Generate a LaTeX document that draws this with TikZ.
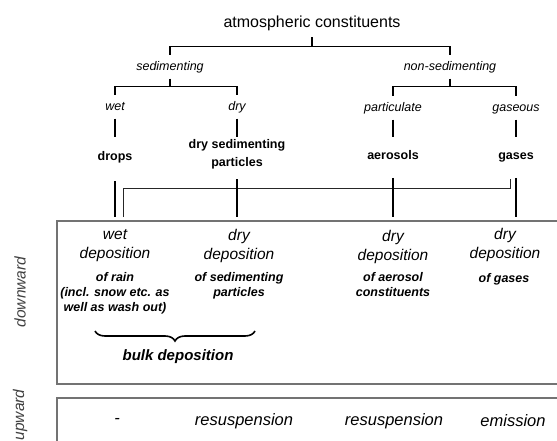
\documentclass[tikz,border=0pt]{standalone}
\usepackage{fontspec}
\setmainfont{Liberation Sans}
\usetikzlibrary{calc,decorations.pathreplacing}

\tikzset{
	headline/.style={inner sep=0pt, outer ysep=7pt, font=\fontsize{16}{19}\selectfont},
	branch/.style={inner sep=0pt, outer ysep=6pt, text height=9pt, text depth=2.5pt, font=\fontsize{12.5}{15}\selectfont\itshape},
	kind/.style={inner sep=0pt, align=center, font=\fontsize{12.5}{18}\selectfont\bfseries},
	dephead/.style={inner sep=0pt, align=center, font=\fontsize{15.5}{19}\selectfont\itshape},
	depsub/.style={inner sep=0pt, align=center, font=\fontsize{12.5}{15}\selectfont\bfseries\itshape},
	bulk/.style={inner sep=0pt, font=\fontsize{15}{18}\selectfont\bfseries\itshape},
	flux/.style={inner sep=0pt, font=\fontsize{16.5}{19}\selectfont\itshape},
	side/.style={inner sep=0pt, rotate=90, text=black!75, font=\fontsize{15.5}{18}\selectfont\itshape},
	tree/.style={line width=1.4pt},
	stub/.style={line width=2pt},
	bar/.style={line width=2.6pt},
	frame/.style={draw=black!55, line width=1.2pt},
	washout/.style={line width=0.8pt, draw=black!85},
	washdouble/.style={line width=0.6pt, draw=black!55, double=white, double distance=1.3pt},
	bracket/.style={decorate, decoration={brace, mirror, amplitude=10pt}, line width=1.6pt},
}

\begin{document}
\begin{tikzpicture}[x=1pt, y=-1pt]
	%%%%% START %%%%%
	\useasboundingbox (0,0) rectangle (557,441);
	\clip (0,0) rectangle (557,441);
	
	% classification
	\node[headline] (atm) at (312,23) {atmospheric constituents};
	\node[branch] (sed) at (170,67) {sedimenting};
	\node[branch] (nonsed) at (450,67) {non-sedimenting};
	\node[branch] (wet) at (115,107) {wet};
	\node[branch] (dry) at (237,107) {dry};
	\node[branch] (part) at (393,108) {particulate};
	\node[branch] (gas) at (516,108) {gaseous};
	
	\node[kind] (drops) at (115,157) {drops};
	\node[kind] (drysed) at (237,154) {dry sedimenting\\particles};
	\node[kind] (aeros) at (393,155) {aerosols};
	\node[kind] (gases) at (516,157) {gases};
	
	\draw[tree] (atm.south) -- ++(0,9) coordinate (atmj) -| (sed.north);
	\draw[tree] (atmj) -| (nonsed.north);
	\draw[tree] (sed.south) -- ++(0,8) coordinate (sedj) -| (wet.north);
	\draw[tree] (sedj) -| (dry.north);
	\draw[tree] (nonsed.south) -- ++(0,8) coordinate (nsj) -| (part.north);
	\draw[tree] (nsj) -| (gas.north);
	
	\draw[stub, shorten >=14pt] (wet) -- (drops);
	\draw[stub, shorten >=2pt] (dry) -- (drysed);
	\draw[stub, shorten >=13.5pt] (part) -- (aeros);
	\draw[stub, shorten >=15pt] (gas) -- (gases);
	
	% deposition paths
	\node[dephead] (dep1) at (115,246) {wet\\deposition};
	\node[dephead] (dep2) at (239,246) {dry\\deposition};
	\node[dephead] (dep3) at (393,247) {dry\\deposition};
	\node[dephead] (dep4) at (505,245) {dry\\deposition};
	
	\node[depsub] (sub1) at (115,293) {of rain\\(incl. snow etc. as\\well as wash out)};
	\node[depsub] (sub2) at (239,286) {of sedimenting\\particles};
	\node[depsub] (sub3) at (393,285) {of aerosol\\constituents};
	\node[depsub] (sub4) at (504,279) {of gases};
	
	% wash out, under the bars
	\coordinate (wA) at (119,217);
	\coordinate (aA) at (390,179);
	\coordinate (wG) at (123,217);
	\coordinate (gG) at (510,179);
	\draw[washdouble] (wA) -- ++(0,-34) -| (aA);
	\draw[washout] (wG) -- ++(0,-29) -| (gG);
	
	\draw[bar, shorten <=18pt, shorten >=12.5pt] (drops) -- (drops |- dep1.north);
	\draw[bar, shorten <=10pt, shorten >=12.5pt] (drysed) -- (drysed |- dep2.north);
	\draw[bar, shorten <=18pt, shorten >=13pt] (aeros) -- (aeros |- dep3.north);
	\draw[bar, shorten <=16pt, shorten >=28.5pt] (gases) -- (gases |- dep4);
	
	\draw[bracket] (95,331) -- (255,331);
	\node[bulk] (bulkdep) at (178,357) {bulk deposition};
	
	% frames
	\draw[frame] (57,221) rectangle (580,384);
	\draw[frame] (57,398) rectangle (580,470);
	
	\node[side] (down) at (20,292) {downward};
	\node[side] (up) at (20,415) {upward};
	
	\node[flux] (flux1) at (117,421) {-};
	\node[flux] (flux2) at (244,421) {resuspension};
	\node[flux] (flux3) at (394,421) {resuspension};
	\node[flux] (flux4) at (513,421) {emission};
	%%%%% END %%%%%
\end{tikzpicture}
\end{document}
